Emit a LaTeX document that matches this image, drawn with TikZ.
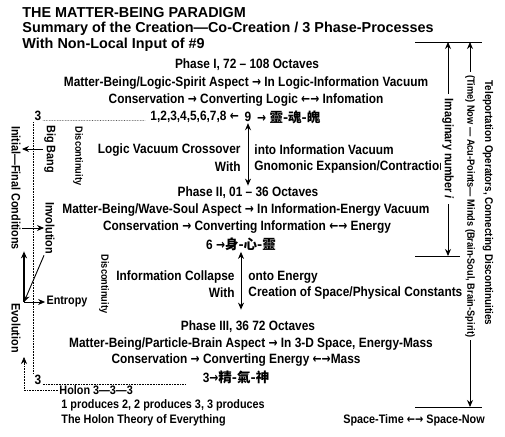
\documentclass[tikz,border=0pt]{standalone}
\usepackage{fontspec}
\usepackage{tikz}
\usetikzlibrary{arrows.meta}
\newfontfamily\narrowsf{Liberation Sans}[FakeStretch=0.88]
\newfontfamily\titlesf{Liberation Sans}
\newfontfamily\arrowsf{DejaVu Sans}[FakeStretch=0.8]
\newfontfamily\cjk{Noto Sans CJK TC}
\newcommand{\rarr}{{\arrowsf\bfseries →}}
\newcommand{\larr}{{\arrowsf\bfseries ←}}
\newcommand{\lrarr}{{\arrowsf\bfseries ←→}}

\begin{document}
\begin{tikzpicture}[x=1bp, y=-1bp, >={Stealth[length=7bp,width=6bp]}, line width=0.9bp,
    body/.style={font=\narrowsf\bfseries\fontsize{13.5bp}{16bp}\selectfont, inner sep=1bp},
    side/.style={font=\narrowsf\bfseries\fontsize{12.3bp}{15bp}\selectfont, inner sep=1bp},
    minor/.style={font=\narrowsf\bfseries\fontsize{10.5bp}{12bp}\selectfont, inner sep=1bp},
    ttl/.style={font=\titlesf\bfseries\fontsize{14.4bp}{17bp}\selectfont, inner sep=1bp, anchor=west},
    leader/.style={densely dotted, line width=0.6bp}]
    \fill[white] (0,0) rectangle (505,437);
    \useasboundingbox (0,0) rectangle (505,437);

    % heading
    \node[ttl] (title) at (21,13) {THE MATTER-BEING PARADIGM};
    \node[ttl] (sub) at (21,29) {Summary of the Creation—Co-Creation / 3 Phase-Processes};
    \node[ttl] (nonlocal) at (21,45) {With Non-Local Input of \#9};

    % phase I
    \node[body] (ph1) at (247,65) {Phase I, 72 – 108 Octaves};
    \node[body] (mb1) at (246,83) {Matter-Being/Logic-Spirit Aspect \rarr{} In Logic-Information Vacuum};
    \node[body] (cons1) at (246,100) {Conservation \rarr{} Converting Logic \lrarr{} Infomation};
    \node[body, inner xsep=4bp] (nine) at (248,117) {9};
    \node[body, anchor=east] (lnums) at (nine.west) {1,2,3,4,5,6,7,8 \larr};
    \node[body, anchor=west] (rnums) at (nine.east) {\rarr{} {\cjk 靈-魂-魄}};
    \node[body, anchor=east] (xover) at (242,150) {Logic Vacuum Crossover};
    \node[body, anchor=west] (intoinf) at (253,150) {into Information Vacuum};
    \node[body, anchor=east] (with1) at (242,167) {With};
    \node[body, anchor=west] (gnomon) at (253,167) {Gnomonic Expansion/Contraction};

    % phase II
    \node[body] (ph2) at (248,193) {Phase II, 01 – 36 Octaves};
    \node[body] (mb2) at (246,210) {Matter-Being/Wave-Soul Aspect \rarr{} In Information-Energy Vacuum};
    \node[body] (cons2) at (247,227) {Conservation \rarr{} Converting Information \lrarr{} Energy};
    \node[body] (six) at (241,244) {6 \rarr{\cjk 身-心-靈}};
    \node[body, anchor=east] (collapse) at (236,277) {Information Collapse};
    \node[body, anchor=west] (onto) at (247,277) {onto Energy};
    \node[body, anchor=east] (with2) at (236,293) {With};
    \node[body, anchor=west] (creation) at (247,293) {Creation of Space/Physical Constants};

    % phase III
    \node[body] (ph3) at (248,327) {Phase III, 36 72 Octaves};
    \node[body] (mb3) at (251,344) {Matter-Being/Particle-Brain Aspect \rarr{} In 3-D Space, Energy-Mass};
    \node[body] (cons3) at (236,360) {Conservation \rarr{} Converting Energy \lrarr{}Mass};
    \node[body] (jqs) at (236,377) {3\rarr{\cjk 精-氣-神}};

    \draw[<->] (nine.south) -- (nine.south |- ph2.north);
    \draw[<->] (six.south) -- ([yshift=10bp]six.south |- ph3.north);

    % holon
    \node[body] (threeA) at (38,116) {3};
    \node[body] (threeB) at (38,380) {3};
    \node[side, anchor=west] (holon) at (58,390) {Holon 3—3—3};
    \node[side, anchor=west] (produces) at (60,405) {1 produces 2, 2 produces 3, 3 produces};
    \node[side, anchor=west] (theory) at (60,420) {The Holon Theory of Everything};

    \draw[leader] (threeA.base east) -- ([xshift=-4bp]lnums.base west);
    \draw[leader] (threeA.south west) -- (threeB.north west);
    \draw[leader] (threeB.base east) -- ([xshift=-16bp]threeB.base east -| jqs.west);

    % left cycle
    \node[side, rotate=-90] (initfin) at (16,188) {Initial—Final Conditions};
    \node[side, rotate=-90] (bigbang) at (50,149) {Big Bang};
    \node[minor, rotate=-90] (disc1) at (78,156) {Discontinuity};
    \node[side, rotate=-90] (involution) at (50,228) {Involution};
    \node[minor, rotate=-90] (disc2) at (104,284) {Discontinuity};
    \node[side] (entropy) at (67,302) {Entropy};
    \node[side, rotate=-90] (evolution) at (16,328) {Evolution};
    \coordinate (crux) at (24,302);
    \coordinate (evotip) at (24,357);

    \draw[->] (bigbang.south) -- (bigbang.south -| initfin.north);
    \draw[->] (initfin.north |- involution) -- (involution.south);
    \draw[->] (involution.south east) -- (crux);
    \draw[->] (crux) -- (entropy.west);
    \draw[->, line width=1.5bp] (crux) -- (crux |- initfin.east);
    \draw[leader, ->] (holon.west) -| (evotip);

    % right column
    \coordinate (topl) at (415,42);
    \coordinate (topr) at (482,42);
    \coordinate (midl) at (415,256);
    \coordinate (midr) at (460,256);
    \coordinate (botl) at (415,407);
    \coordinate (botr) at (482,407);
    \coordinate (imtop) at (448,42);
    \coordinate (imbot) at (448,256);
    \coordinate (nowtop) at (470,42);
    \coordinate (nowbot) at (470,407);

    \draw (topl) -- (topr);
    \draw (midl) -- (midr);
    \draw (botl) -- (botr);
    \draw[<->] (imtop) -- node[side, rotate=-90, fill=white, inner xsep=5bp] (imag) {Imaginary number \textit{i}} (imbot);
    \draw[<->] (nowtop) -- node[minor, rotate=-90, fill=white, pos=0.45, inner xsep=3bp] (now) {(Time) Now — Acu-Points— Minds (Brain-Soul, Brain-Spirit)} (nowbot);
    \node[side, rotate=-90, font=\narrowsf\bfseries\fontsize{11.2bp}{13bp}\selectfont] (teleport) at (488,203) {Teleportation Operators, Connecting Discontinuities};
    \node[side] (spacetime) at (414,420) {Space-Time \lrarr{} Space-Now};
\end{tikzpicture}
\end{document}
